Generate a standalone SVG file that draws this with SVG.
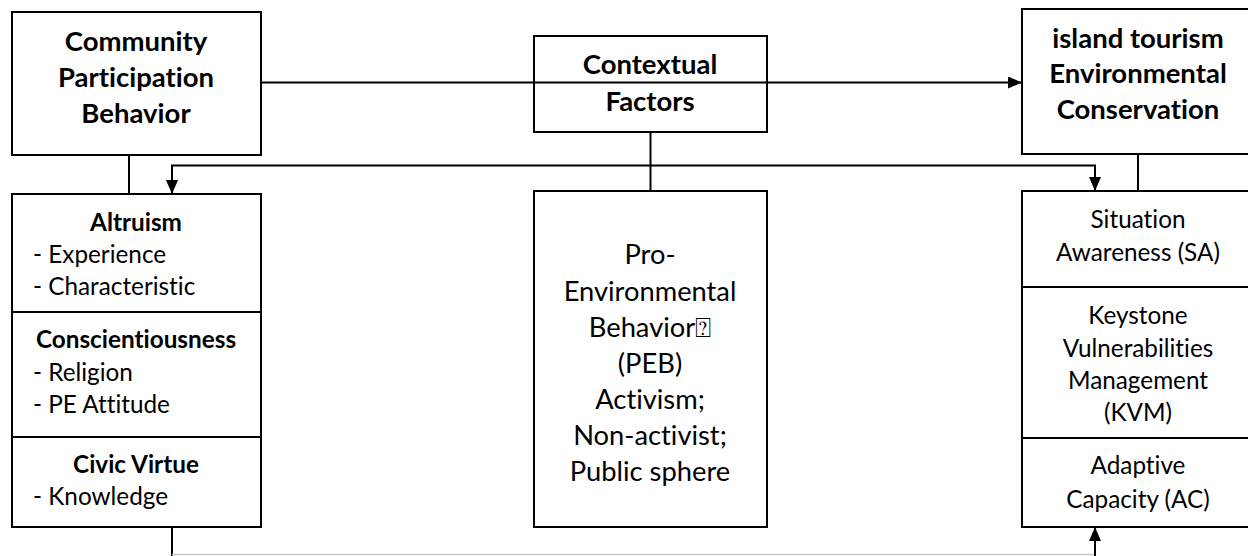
<svg xmlns="http://www.w3.org/2000/svg" width="1248" height="556" viewBox="0 0 1248 556">
<defs>
<style>
.box{fill:#fff;stroke:#000;stroke-width:2}
.ln{fill:none;stroke:#000;stroke-width:2}
.t{font-family:Lato,"Liberation Sans",sans-serif;fill:#000;font-variant-ligatures:none;font-feature-settings:"liga" 0,"dlig" 0}
.b{font-weight:bold;font-size:27.5px;text-anchor:middle}
.r{font-size:24.3px}
.c{text-anchor:middle}
.m{font-size:27.3px;text-anchor:middle}
</style>
<marker id="ah" viewBox="0 0 14 12" refX="14" refY="6" markerWidth="14" markerHeight="12" markerUnits="userSpaceOnUse" orient="auto">
<path d="M0,0 L14,6 L0,12 Z" fill="#000"/>
</marker>
</defs>
<rect width="1248" height="556" fill="#fff"/>

<g id="community">
<rect class="box" x="12" y="12" width="249" height="143"/>
<text class="t b" x="136" y="51">Community</text>
<text class="t b" x="136" y="87">Participation</text>
<text class="t b" x="136" y="123">Behavior</text>
</g>

<g id="contextual">
<rect class="box" x="534" y="36" width="233" height="96"/>
<text class="t b" x="650" y="74">Contextual</text>
<text class="t b" x="650" y="111">Factors</text>
</g>

<g id="island">
<rect class="box" x="1022" y="9" width="232" height="145"/>
<text class="t b" x="1138" y="48">island tourism</text>
<text class="t b" x="1138" y="83">Environmental</text>
<text class="t b" x="1138" y="119">Conservation</text>
</g>

<g id="left-factors">
<rect class="box" x="12" y="194" width="249" height="333"/>
<line class="ln" x1="12" y1="312" x2="261" y2="312"/>
<line class="ln" x1="12" y1="437" x2="261" y2="437"/>
<text class="t r" x="136" y="231" font-weight="bold" text-anchor="middle">Altruism</text>
<text class="t r" x="33" y="263">- Experience</text>
<text class="t r" x="33" y="295">- Characteristic</text>
<text class="t r" x="136" y="348" font-weight="bold" text-anchor="middle">Conscientiousness</text>
<text class="t r" x="33" y="381">- Religion</text>
<text class="t r" x="33" y="413">- PE Attitude</text>
<text class="t r" x="136" y="473" font-weight="bold" text-anchor="middle">Civic Virtue</text>
<text class="t r" x="33" y="505">- Knowledge</text>
</g>

<g id="peb">
<rect class="box" x="534" y="191" width="233" height="336"/>
<text class="t m" x="650" y="264">Pro-</text>
<text class="t m" x="650" y="301">Environmental</text>
<text class="t m" x="650" y="337">Behavior&#x2370;</text>
<text class="t m" x="650" y="373">(PEB)</text>
<text class="t m" x="650" y="409">Activism;</text>
<text class="t m" x="650" y="445">Non-activist;</text>
<text class="t m" x="650" y="481">Public sphere</text>
</g>

<g id="right-factors">
<rect class="box" x="1022" y="191" width="232" height="336"/>
<line class="ln" x1="1022" y1="287" x2="1254" y2="287"/>
<line class="ln" x1="1022" y1="438" x2="1254" y2="438"/>
<text class="t r c" x="1138" y="228">Situation</text>
<text class="t r c" x="1138" y="261">Awareness (SA)</text>
<text class="t r c" x="1138" y="324">Keystone</text>
<text class="t r c" x="1138" y="357">Vulnerabilities</text>
<text class="t r c" x="1138" y="389">Management</text>
<text class="t r c" x="1138" y="421">(KVM)</text>
<text class="t r c" x="1138" y="474">Adaptive</text>
<text class="t r c" x="1138" y="508">Capacity (AC)</text>
</g>

<g id="connectors">
<line class="ln" x1="261" y1="82.5" x2="1022" y2="82.5" marker-end="url(#ah)"/>
<line class="ln" x1="129" y1="155" x2="129" y2="194"/>
<line class="ln" x1="1138" y1="154" x2="1138" y2="191"/>
<line class="ln" x1="650.5" y1="132" x2="650.5" y2="191"/>
<polyline class="ln" points="650.5,165.5 172,165.5 172,194" marker-end="url(#ah)"/>
<polyline class="ln" points="650.5,165.5 1095,165.5 1095,191" marker-end="url(#ah)"/>
<line class="ln" x1="172" y1="527" x2="172" y2="556"/>
<line x1="172" y1="554.5" x2="1095" y2="554.5" stroke="#c8c8c8" stroke-width="1.5"/>
<line class="ln" x1="1095" y1="556" x2="1095" y2="527" marker-end="url(#ah)"/>
</g>
</svg>
